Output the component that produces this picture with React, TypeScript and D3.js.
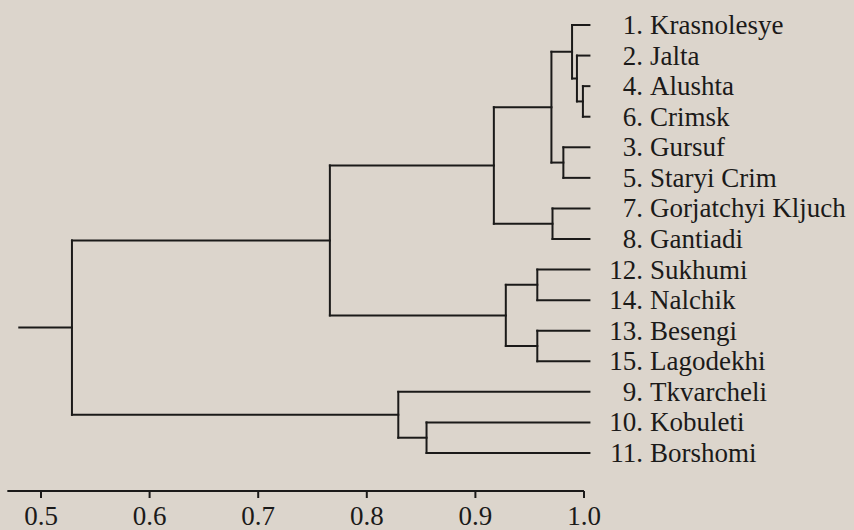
import React from 'react';
import * as d3 from 'd3';

// leaves, top to bottom
const leafIds = ['1', '2', '4', '6', '3', '5', '7', '8', '12', '14', '13', '15', '9', '10', '11'];
const leafNames = [
  'Krasnolesye', 'Jalta', 'Alushta', 'Crimsk', 'Gursuf', 'Staryi Crim',
  'Gorjatchyi Kljuch', 'Gantiadi', 'Sukhumi', 'Nalchik', 'Besengi', 'Lagodekhi',
  'Tkvarcheli', 'Kobuleti', 'Borshomi',
];

// merges: indexes 0..14 are leaves, 15.. are earlier merges
const mergePairs = [
  [2, 3], [1, 15], [0, 16], [4, 5], [17, 18], [6, 7], [19, 20],
  [8, 9], [10, 11], [22, 23], [21, 24], [13, 14], [12, 26], [25, 27],
];
const mergeLevels = [
  0.999, 0.9935, 0.989, 0.981, 0.970, 0.971, 0.917,
  0.957, 0.957, 0.928, 0.766, 0.855, 0.829, 0.5285,
];
const leafLevel = 1.005;
const rootStem = 0.48;

const tickValues = [0.5, 0.6, 0.7, 0.8, 0.9, 1.0];
const axisStart = 0.469;

const W = 854;
const H = 530;
const ink = '#1b1a19';
const font = "'Liberation Serif'";

const x = d3.scaleLinear().domain([0.5, 1.0]).range([41, 584]);
const y = d3.scalePoint().domain(leafIds.map((d, i) => i)).range([25, 453]);
const fmt = d3.format('.1f');
const line = d3.line();

function buildSegments() {
  const n = leafIds.length;
  const ys = leafIds.map((d, i) => y(i));
  const lv = leafIds.map(() => leafLevel);
  mergePairs.forEach(([a, b], i) => {
    ys.push((ys[a] + ys[b]) / 2);
    lv.push(mergeLevels[i]);
  });
  const segs = [];
  mergePairs.forEach(([a, b], i) => {
    const xm = x(mergeLevels[i]);
    segs.push([[xm, ys[a]], [xm, ys[b]]]);
    segs.push([[xm, ys[a]], [x(lv[a]), ys[a]]]);
    segs.push([[xm, ys[b]], [x(lv[b]), ys[b]]]);
  });
  const root = n + mergePairs.length - 1;
  segs.push([[x(rootStem), ys[root]], [x(lv[root]), ys[root]]]);
  return segs;
}

export default function App() {
  const segs = buildSegments();
  const axisY = 491;
  return (
    <svg
      width={W}
      height={H}
      style={{ position: 'absolute', left: 0, top: 0, background: '#dcd5cc' }}
    >
      <g fill="none" stroke={ink} strokeWidth={2} strokeLinecap="square">
        {segs.map((s, i) => (
          <path key={i} d={line(s)} />
        ))}
      </g>
      <g fill={ink} style={{ fontFamily: font, fontSize: 27 }}>
        {leafIds.map((id, i) => (
          <text key={'n' + id} x={643} y={y(i) + 9} textAnchor="end">
            {id + '.'}
          </text>
        ))}
        {leafNames.map((name, i) => (
          <text key={name} x={650} y={y(i) + 9}>
            {name}
          </text>
        ))}
      </g>
      <g stroke={ink} strokeWidth={2}>
        <line x1={x(axisStart)} x2={x(1.0)} y1={axisY} y2={axisY} />
        {tickValues.map((t) => (
          <line key={t} x1={x(t)} x2={x(t)} y1={axisY} y2={axisY + 7} />
        ))}
      </g>
      <g fill={ink} style={{ fontFamily: font, fontSize: 27 }} textAnchor="middle">
        {tickValues.map((t) => (
          <text key={t} x={x(t)} y={axisY + 34}>
            {fmt(t)}
          </text>
        ))}
      </g>
    </svg>
  );
}
